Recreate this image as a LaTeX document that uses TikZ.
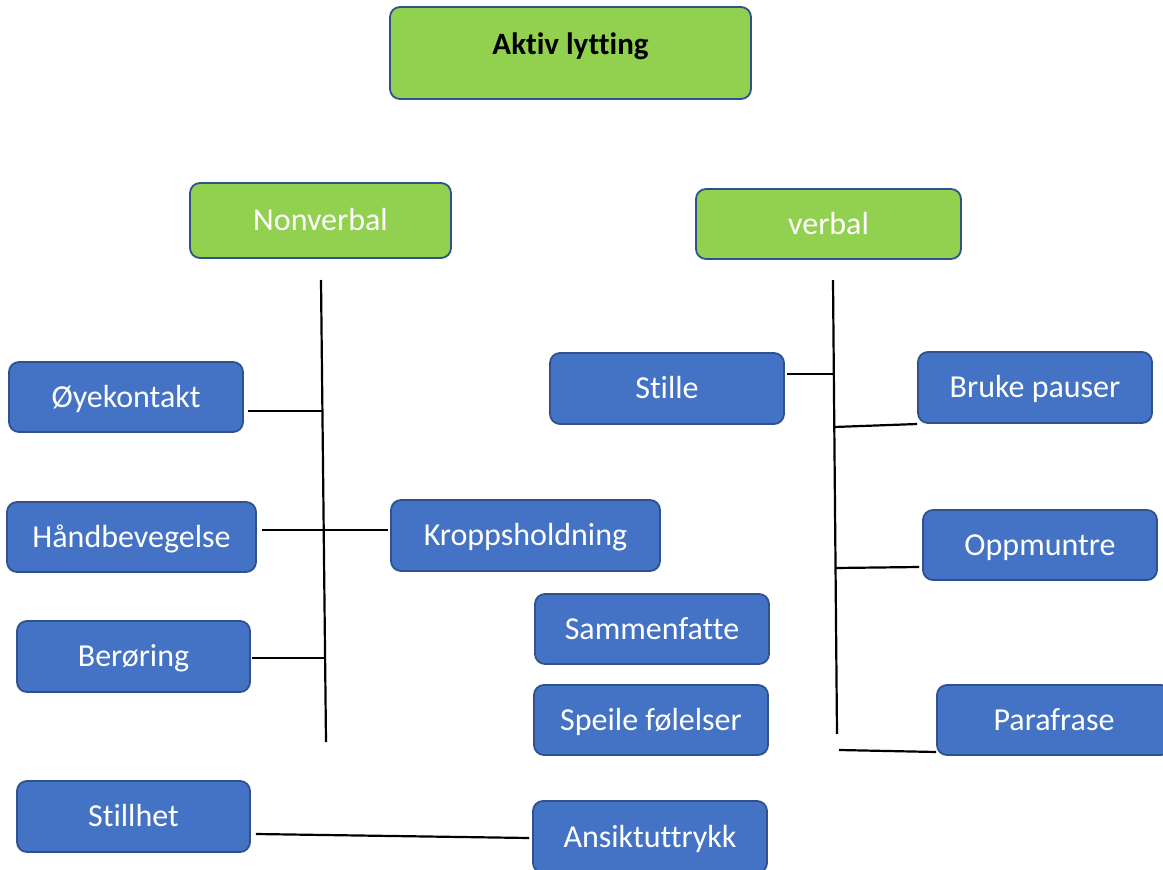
\documentclass[tikz,border=0pt]{standalone}
\usepackage{fontspec}
\setmainfont{Carlito}[Ligatures=CommonOff]
\definecolor{grn}{HTML}{92D050}
\definecolor{blu}{HTML}{4472C4}
\definecolor{bord}{HTML}{2F528F}
\tikzset{
  base/.style={rectangle, rounded corners=10pt, draw=bord, line width=1.8pt, inner sep=0pt,
    text height=24pt, text depth=4pt, align=center, font=\fontsize{32}{38}\selectfont},
  greenbox/.style={base, fill=grn, text=white},
  bluebox/.style={base, fill=blu, text=white, minimum width=234pt, minimum height=70pt},
  conn/.style={line width=2.2pt, black}
}
\begin{document}
\begin{tikzpicture}[x=1pt,y=-1pt]
\useasboundingbox (0,0) rectangle (1163,870);
% nodes
\node[greenbox, text=black, minimum width=361pt, minimum height=92pt, text depth=22pt,
      font=\fontsize{31}{36}\selectfont\bfseries] (top) at (570.5,53) {Aktiv lytting};
\node[greenbox, minimum width=261pt, minimum height=75pt] (nonv) at (320.5,220.5) {Nonverbal};
\node[greenbox, minimum width=265pt, minimum height=70pt] (verb) at (828.5,224) {verbal};
\node[bluebox] (oye) at (126,397) {Øyekontakt};
\node[bluebox, minimum width=249pt] (hand) at (131.5,537) {Håndbevegelse};
\node[bluebox, minimum width=233pt, minimum height=71pt] (ber) at (133.5,656.5) {Berøring};
\node[bluebox, minimum width=269pt, minimum height=71pt] (kropp) at (525.5,535.5) {Kroppsholdning};
\node[bluebox, minimum height=71pt] (stille) at (667,388.5) {Stille};
\node[bluebox, minimum height=71pt] (bruke) at (1035,387.5) {Bruke pauser};
\node[bluebox] (oppm) at (1040,545) {Oppmuntre};
\node[bluebox] (samm) at (652,629) {Sammenfatte};
\node[bluebox] (speile) at (651,720) {Speile følelser};
\node[bluebox] (para) at (1054,720) {Parafrase};
\node[bluebox, minimum width=233pt, minimum height=71pt] (stillhet) at (133.5,816.5) {Stillhet};
\node[bluebox, minimum height=72pt] (ansikt) at (650,837) {Ansiktuttrykk};
% left trunk
\coordinate (lt) at (321,280);
\coordinate (lb) at (326,742);
\draw[conn] (lt) -- (lb);
\coordinate (j1) at (322.4,411);
\coordinate (j3) at (325.1,658);
\draw[conn] ([xshift=4pt,yshift=-14pt]oye.east) -- (j1);
\draw[conn] ([xshift=5pt,yshift=7pt]hand.east) -- ([xshift=-2pt,yshift=5.5pt]kropp.west);
\draw[conn] ([xshift=1pt,yshift=-1.5pt]ber.east) -- (j3);
\draw[conn] ([xshift=5pt,yshift=-17.5pt]stillhet.east) -- ([xshift=-3pt,yshift=-1pt]ansikt.west);
% right trunk
\coordinate (rt) at (833,280);
\coordinate (rb) at (837,734);
\draw[conn] (rt) -- (rb);
\coordinate (k1) at (833.8,374);
\coordinate (k2) at (834.3,427);
\coordinate (k3) at (835.5,568);
\coordinate (k4) at (839,750);
\draw[conn] ([xshift=2pt,yshift=14.5pt]stille.east) -- (k1);
\draw[conn] (k2) -- ([yshift=-36.5pt]bruke.west);
\draw[conn] (k3) -- ([xshift=-3pt,yshift=-22pt]oppm.west);
\draw[conn] (k4) -- ([yshift=-32pt]para.west);
\end{tikzpicture}
\end{document}
